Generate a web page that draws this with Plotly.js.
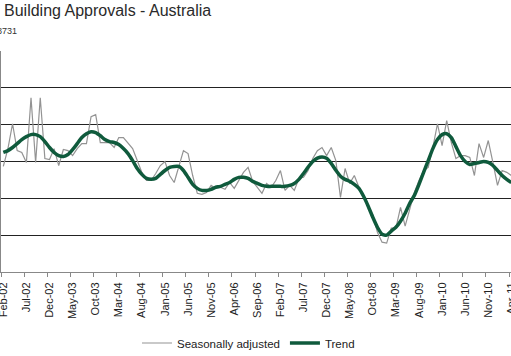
<!DOCTYPE html>
<html>
<head>
<meta charset="utf-8">
<script src="https://cdn.plot.ly/plotly-3.0.1.min.js"></script>
<style>
html,body{margin:0;padding:0;overflow:hidden;background:#fff;width:511px;height:356px;}
#chart{width:540px;height:356px;}
</style>
</head>
<body>
<div id="chart"></div>
<script>
// Month categories Feb-02 .. Apr-11
var monthNames = ["Jan","Feb","Mar","Apr","May","Jun","Jul","Aug","Sep","Oct","Nov","Dec"];
var startYear = 2002, startMonth = 1, nMonths = 111;
var categories = [];
for (var k = 0; k < nMonths; k++) {
  var m = (startMonth + k) % 12;
  var y = startYear + Math.floor((startMonth + k) / 12);
  categories.push(monthNames[m] + "-" + String(y % 100).padStart(2, "0"));
}

// Seasonally adjusted dwelling units approved
var seasonallyAdjusted = [
  13730,14700,16050,14590,14490,13950,17460,13950,17460,14160,
  14110,14700,13780,14650,14590,14320,14700,14970,14970,16430,
  16540,15030,15030,15030,14760,15300,15300,14970,14700,14050,
  13410,12970,12970,13350,13780,14000,13240,12860,13780,14590,
  14430,13240,12270,12220,12320,12700,12540,12600,12490,12860,
  12540,12970,13410,13680,12920,12600,12270,12810,12600,12970,
  13510,12430,12700,12430,13080,13140,13510,14160,14590,14760,
  14320,14760,14050,12050,13620,12810,13240,12600,12160,11620,
  11080,10160,9620,9570,10380,10380,11510,10490,11350,12320,
  12970,13510,13680,14760,16050,14860,16220,15030,14160,14320,
  14320,14220,13240,14970,14220,15140,13950,12700,13510,13410,
  13240
];

// Trend
var trend = [
  14490,14590,14760,14970,15190,15350,15460,15460,15350,15080,
  14760,14490,14320,14270,14380,14650,14970,15300,15510,15620,
  15570,15400,15190,15080,15030,14920,14700,14430,14050,13620,
  13300,13080,13030,13080,13300,13510,13680,13730,13730,13510,
  13140,12760,12540,12430,12430,12490,12600,12650,12760,12860,
  13030,13140,13140,13080,12920,12810,12700,12650,12650,12650,
  12650,12650,12700,12810,13030,13350,13700,14000,14180,14250,
  14180,13900,13520,13200,13030,12920,12760,12540,12110,11570,
  10970,10430,10050,10000,10220,10430,10760,11190,11730,12160,
  12760,13410,14050,14700,15190,15460,15510,15300,14810,14320,
  14000,13840,13890,13950,14000,13950,13780,13510,13240,13030,
  12860
];

var seriesNames = ["Seasonally adjusted", "Trend"];
var titleText = "Building Approvals - Australia";
var subtitleText = "8731";

var traces = [
  {
    x: categories, y: seasonallyAdjusted, name: seriesNames[0],
    type: "scatter", mode: "lines",
    line: {color: "#939393", width: 1.2}
  },
  {
    x: categories, y: trend, name: seriesNames[1],
    type: "scatter", mode: "lines",
    line: {color: "#0f5a3c", width: 3.5, shape: "spline", smoothing: 0.6}
  }
];

var W = 540, H = 356;
var layout = {
  width: W, height: H,
  margin: {l: 1, r: 0, t: 51, b: 84},
  paper_bgcolor: "#fff", plot_bgcolor: "#fff",
  font: {family: "Liberation Sans, Arial, sans-serif", color: "#222", size: 11},
  title: {
    text: titleText,
    font: {size: 16, color: "#2a2a2a", family: "Liberation Sans, Arial, sans-serif"},
    xref: "container", yref: "container",
    x: 4 / W, xanchor: "left",
    y: 1 - 5 / H, yanchor: "top"
  },
  annotations: [{
    text: subtitleText, showarrow: false,
    xref: "paper", yref: "paper",
    x: 0, y: 1, xanchor: "left", yanchor: "bottom",
    xshift: -6, yshift: 13,
    font: {size: 9, color: "#333"}
  }],
  showlegend: true,
  legend: {
    orientation: "h",
    xref: "container", yref: "container",
    x: 137 / W, xanchor: "left",
    y: 1 - 343 / H, yanchor: "middle",
    font: {size: 11.5, color: "#222"},
    bgcolor: "rgba(0,0,0,0)",
    itemwidth: 30,
    tracegroupgap: 0
  },
  xaxis: {
    type: "category",
    range: [-0.5, 116.2],
    tickmode: "linear", tick0: 0, dtick: 5,
    tickson: "boundaries",
    ticks: "outside", ticklen: 4, tickcolor: "#888", tickwidth: 1,
    tickangle: -90,
    ticklabelstandoff: 5,
    showgrid: false,
    showline: true, linecolor: "#888", linewidth: 1,
    tickfont: {size: 11, color: "#222"},
    fixedrange: true
  },
  yaxis: {
    range: [8000, 20000],
    dtick: 2000, tick0: 0,
    showticklabels: false,
    ticks: "",
    showgrid: true, gridcolor: "#222", gridwidth: 1,
    zeroline: false,
    showline: true, linecolor: "#888", linewidth: 1,
    fixedrange: true
  }
};

Plotly.newPlot("chart", traces, layout, {displayModeBar: false, staticPlot: true});
</script>
</body>
</html>
